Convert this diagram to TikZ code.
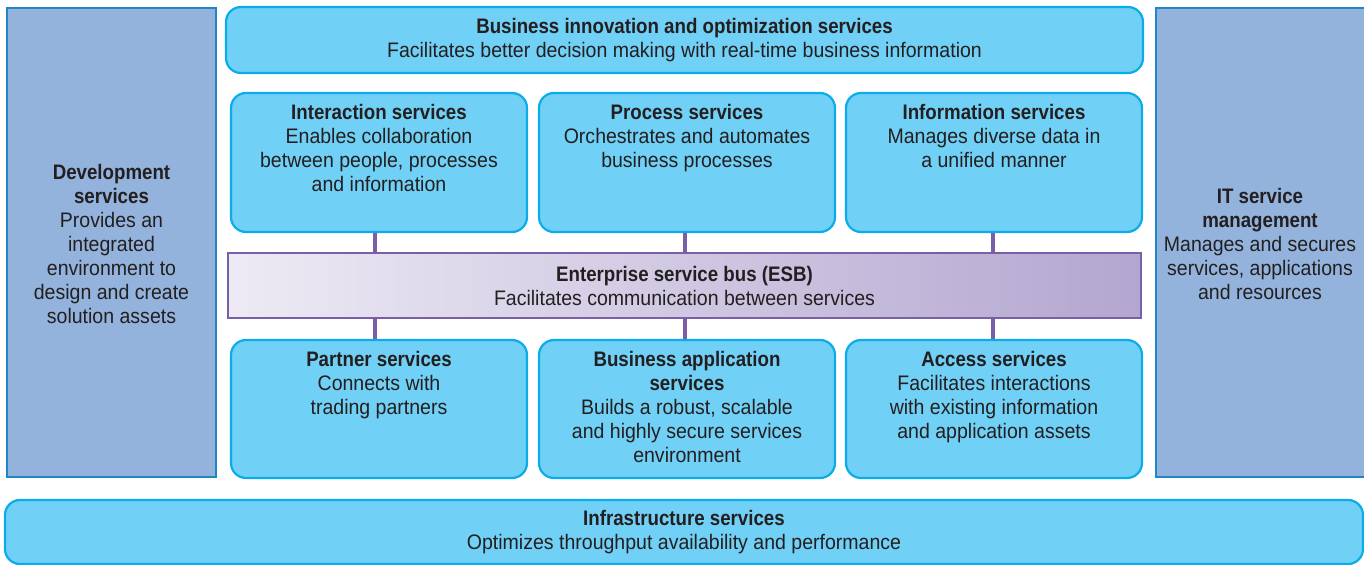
\documentclass[tikz,border=0pt]{standalone}
\usepackage{fontspec}
\setmainfont[FakeStretch=0.93]{Liberation Sans}
\newfontfamily\boldfam[FakeStretch=0.89]{Liberation Sans}
\definecolor{cyanfill}{HTML}{70D0F5}
\definecolor{cyanline}{HTML}{0AADE9}
\definecolor{sidefill}{HTML}{93B3DD}
\definecolor{sideline}{HTML}{1F86C8}
\definecolor{esbline}{HTML}{7A5FA8}
\definecolor{esbleft}{HTML}{EDEAF4}
\definecolor{esbright}{HTML}{B3A6D0}
\definecolor{txt}{HTML}{231F20}
\tikzset{
  svcbox/.style={draw=cyanline, fill=cyanfill, line width=2.2bp, rounded corners=15bp, inner sep=0},
  sidebox/.style={draw=sideline, fill=sidefill, line width=2.5bp, inner sep=0},
  esbbox/.style={draw=esbline, left color=esbleft, right color=esbright, line width=2bp, inner sep=0},
  busline/.style={draw=esbline, line width=4bp},
  lbl/.style={align=center, text=txt, inner sep=0, font=\fontsize{21bp}{24bp}\selectfont},
}
\newcommand{\ttl}[1]{{\boldfam\bfseries #1}}
\begin{document}
\begin{tikzpicture}[x=1bp,y=-1bp]
\useasboundingbox (0,0) rectangle (1364,565);
% side boxes
\node[sidebox, minimum width=209bp, minimum height=469bp] (dev) at (111.5,242.5) {};
\node[sidebox, minimum width=212bp, minimum height=469bp] (itsm) at (1262,242.5) {};
% top
\node[svcbox, minimum width=917bp, minimum height=66bp] (bio) at (684.5,40) {};
% row 1
\node[svcbox, minimum width=296bp, minimum height=139bp] (inter) at (379,162.5) {};
\node[svcbox, minimum width=296bp, minimum height=139bp] (proc) at (687,162.5) {};
\node[svcbox, minimum width=296bp, minimum height=139bp] (info) at (994,162.5) {};
% row 2
\node[svcbox, minimum width=296bp, minimum height=138bp] (part) at (379,409) {};
\node[svcbox, minimum width=296bp, minimum height=138bp] (bapp) at (687,409) {};
\node[svcbox, minimum width=296bp, minimum height=138bp] (acc) at (994,409) {};
% ESB
\node[esbbox, minimum width=913bp, minimum height=65bp] (esb) at (684.5,285.5) {};
% connectors
\draw[busline] (inter.south -| 375,0) -- (esb.north -| 375,0);
\draw[busline] (proc.south -| 685,0) -- (esb.north -| 685,0);
\draw[busline] (info.south -| 993,0) -- (esb.north -| 993,0);
\draw[busline] (esb.south -| 375,0) -- (part.north -| 375,0);
\draw[busline] (esb.south -| 685,0) -- (bapp.north -| 685,0);
\draw[busline] (esb.south -| 993,0) -- (acc.north -| 993,0);
% infrastructure
\node[svcbox, minimum width=1358bp, minimum height=64bp] (infra) at (684,532) {};
% labels
\node[lbl] (devt) at ([yshift=-1.5bp]dev.center) {\ttl{Development}\\\ttl{services}\\Provides an\\integrated\\environment to\\design and create\\solution assets};
\node[lbl] (itsmt) at ([xshift=-2bp,yshift=-1.5bp]itsm.center) {\ttl{IT service}\\\ttl{management}\\Manages and secures\\services, applications\\and resources};
\node[lbl] (biot) at (bio.center) {\ttl{Business innovation and optimization services}\\Facilitates better decision making with real-time business information};
\node[lbl, anchor=north] (intert) at ([yshift=-12bp]inter.north) {\ttl{Interaction services}\\Enables collaboration\\between people, processes\\and information};
\node[lbl, anchor=north] (proct) at ([yshift=-12bp]proc.north) {\ttl{Process services}\\Orchestrates and automates\\business processes};
\node[lbl, anchor=north] (infot) at ([yshift=-12bp]info.north) {\ttl{Information services}\\Manages diverse data in\\a unified manner};
\node[lbl] (esbt) at (esb.center) {\ttl{Enterprise service bus (ESB)}\\Facilitates communication between services};
\node[lbl, anchor=north] (partt) at ([yshift=-12bp]part.north) {\ttl{Partner services}\\Connects with\\trading partners};
\node[lbl, anchor=north] (bappt) at ([yshift=-12bp]bapp.north) {\ttl{Business application}\\\ttl{services}\\Builds a robust, scalable\\and highly secure services\\environment};
\node[lbl, anchor=north] (acct) at ([yshift=-12bp]acc.north) {\ttl{Access services}\\Facilitates interactions\\with existing information\\and application assets};
\node[lbl] (infrat) at (infra.center) {\ttl{Infrastructure services}\\Optimizes throughput availability and performance};
\end{tikzpicture}
\end{document}
